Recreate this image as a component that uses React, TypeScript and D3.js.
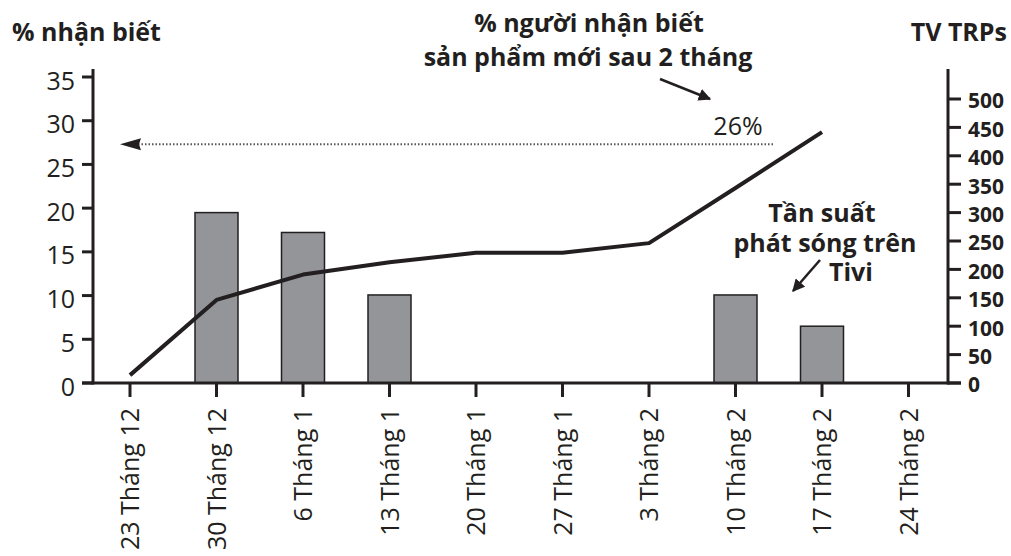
import React from "react";
import * as d3 from "d3";

const categories = [
  "23 Tháng 12", "30 Tháng 12", "6 Tháng 1", "13 Tháng 1", "20 Tháng 1",
  "27 Tháng 1", "3 Tháng 2", "10 Tháng 2", "17 Tháng 2", "24 Tháng 2",
];
const trps = [0, 300, 265, 155, 0, 0, 0, 155, 100, 0];
const awareness = [0.9, 9.5, 12.4, 13.8, 14.9, 14.9, 16.0, 22.3, 28.7];
const leftTicks = [0, 5, 10, 15, 20, 25, 30, 35];
const rightTicks = [0, 50, 100, 150, 200, 250, 300, 350, 400, 450, 500];
const awarenessMarker = 27.3;

const W = 1011, H = 556;
const INK = "#231f20";
const FONT = "'Open Sans', 'DejaVu Sans', sans-serif";

export default function App() {
  const x = d3.scalePoint<string>().domain(categories).range([130, 908.5]);
  const yL = d3.scaleLinear().domain([0, 35]).range([383, 77]);
  const yR = d3.scaleLinear().domain([0, 500]).range([383, 99]);
  const axisL = 93, axisR = 948, base = 383, top = 69;
  const barW = 43;

  const line = d3
    .line<number>()
    .x((_, i) => x(categories[i]) as number)
    .y((d) => yL(d));

  const markerY = yL(awarenessMarker);

  return (
    <svg width={W} height={H} style={{ position: "absolute", left: 0, top: 0, background: "#fff" }}
      fontFamily={FONT}>
      <defs>
        <marker id="ah" viewBox="0 0 10 10" refX="9" refY="5" markerWidth="5" markerHeight="5" orient="auto-start-reverse">
          <path d="M0,0 L10,5 L0,10 z" fill={INK} />
        </marker>
      </defs>

      {/* bars */}
      {trps.map((v, i) =>
        v > 0 ? (
          <rect key={i} x={(x(categories[i]) as number) - barW / 2} y={yR(v)} width={barW}
            height={base - yR(v)} fill="#939598" stroke={INK} strokeWidth={1.5} />
        ) : null
      )}

      {/* awareness line */}
      <path d={line(awareness) || ""} fill="none" stroke={INK} strokeWidth={4} strokeLinejoin="round" />

      {/* dotted marker line */}
      <line x1={138} x2={773} y1={markerY} y2={markerY} stroke="#555" strokeWidth={2} strokeDasharray="1.5,2" />
      <path d={`M120,${markerY} L141,${markerY - 6} L139,${markerY} L141,${markerY + 6} z`} fill={INK} />
      <text x={738} y={135} fontSize={25} textAnchor="middle" fill={INK}>26%</text>

      {/* axes */}
      <line x1={axisL} x2={axisL} y1={top} y2={base + 1.5} stroke={INK} strokeWidth={3} />
      <line x1={axisR} x2={axisR} y1={top} y2={base + 1.5} stroke={INK} strokeWidth={3} />
      <line x1={axisL - 11} x2={axisR + 13} y1={base} y2={base} stroke={INK} strokeWidth={3} />

      {leftTicks.map((t) => (
        <g key={t}>
          <line x1={axisL - 11} x2={axisL} y1={yL(t)} y2={yL(t)} stroke={INK} strokeWidth={3} />
          <text x={75} y={yL(t)} dy="0.5em" textAnchor="end" fontSize={25} fill={INK}>{t}</text>
        </g>
      ))}
      {rightTicks.map((t) => (
        <g key={t}>
          <line x1={axisR} x2={axisR + 13} y1={yR(t)} y2={yR(t)} stroke={INK} strokeWidth={3} />
          <text x={968} y={yR(t)} dy="0.45em" textAnchor="start" fontSize={21} fontWeight="bold" fill={INK}>{t}</text>
        </g>
      ))}

      {categories.map((c) => {
        const cx = x(c) as number;
        return (
          <g key={c}>
            <line x1={cx} x2={cx} y1={base} y2={base + 14} stroke={INK} strokeWidth={3} />
            <text transform={`translate(${cx},${408}) rotate(-90)`} dy="0.36em" textAnchor="end"
              fontSize={25} fill={INK}>{c}</text>
          </g>
        );
      })}

      {/* titles */}
      <text x={12} y={41} fontSize={25} fontWeight="bold" fill={INK}>% nhận biết</text>
      <text x={1007} y={41} fontSize={25} fontWeight="bold" textAnchor="end" fill={INK}>TV TRPs</text>
      <text x={589} y={32} fontSize={25} fontWeight="bold" textAnchor="middle" fill={INK}>% người nhận biết</text>
      <text x={588} y={66} fontSize={25} fontWeight="bold" textAnchor="middle" fill={INK}>sản phẩm mới sau 2 tháng</text>
      <line x1={660} y1={79} x2={710} y2={99} stroke={INK} strokeWidth={2.5} markerEnd="url(#ah)" />

      <text x={822} y={222} fontSize={25} fontWeight="bold" textAnchor="middle" fill={INK}>Tần suất</text>
      <text x={825} y={252} fontSize={25} fontWeight="bold" textAnchor="middle" fill={INK}>phát sóng trên</text>
      <text x={851} y={281} fontSize={25} fontWeight="bold" textAnchor="middle" fill={INK}>Tivi</text>
      <line x1={820} y1={260} x2={793} y2={291} stroke={INK} strokeWidth={2.5} markerEnd="url(#ah)" />
    </svg>
  );
}
